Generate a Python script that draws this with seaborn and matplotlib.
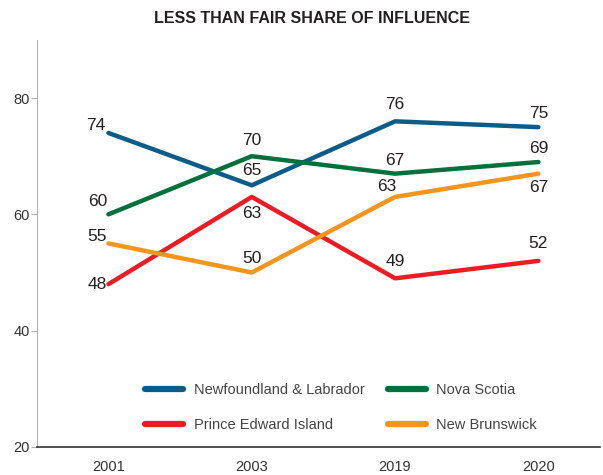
import pandas as pd
import matplotlib.pyplot as plt
import seaborn as sns

# 데이터
years = ['2001', '2003', '2019', '2020']
provinces = ['Newfoundland & Labrador', 'Nova Scotia', 'Prince Edward Island', 'New Brunswick']
nl = [74, 65, 76, 75]
ns = [60, 70, 67, 69]
pei = [48, 63, 49, 52]
nb = [55, 50, 63, 67]
colors = ['#0b5d87', '#00703c', '#ed1c24', '#f7941d']

# 라벨 위치 (픽셀 오프셋)
offsets = {
    'Newfoundland & Labrador': [(-13, 7), (0, 15), (0, 17), (0, 14)],
    'Nova Scotia': [(-11, 13), (0, 16), (0, 13), (0, 14)],
    'Prince Edward Island': [(-11, 0), (0, -17), (0, 17), (0, 17)],
    'New Brunswick': [(-11, 7), (0, 14), (-8, 10), (0, -14)],
}

df = pd.DataFrame({
    'year': years * 4,
    'province': [p for p in provinces for _ in years],
    'value': nl + ns + pei + nb,
})

sns.set_style('white')
plt.rcParams['font.family'] = ['Liberation Sans', 'DejaVu Sans']

fig = plt.figure(figsize=(6.03, 4.75), dpi=100)
ax = fig.add_axes([0.061, 0.059, 0.934, 0.857])

sns.lineplot(data=df, x='year', y='value', hue='province', hue_order=provinces,
             palette=colors, linewidth=3.2, sort=False, ax=ax)

# 값 라벨
for p in provinces:
    sub = df[df['province'] == p]
    for i, (v, off) in enumerate(zip(sub['value'], offsets[p])):
        ax.annotate(str(v), (i, v), xytext=off, textcoords='offset pixels',
                    ha='center', va='center', fontsize=12.5, color='#231f20')

ax.set_xlim(-0.5, 3.43)
ax.set_ylim(20, 90)
ax.set_yticks([20, 40, 60, 80])
ax.set_xlabel('')
ax.set_ylabel('')

for s in ['top', 'right']:
    ax.spines[s].set_visible(False)
ax.spines['left'].set_color('#b0b0b0')
ax.spines['left'].set_linewidth(0.8)
ax.spines['bottom'].set_color('#333333')
ax.spines['bottom'].set_linewidth(1.2)
ax.tick_params(axis='y', left=True, length=4, width=0.8, color='#b0b0b0',
               labelsize=10.5, labelcolor='#333333', pad=1)
ax.tick_params(axis='x', bottom=False, labelsize=10.5, labelcolor='#333333', pad=6)

# 범례 순서: 1행 NL, NS / 2행 PEI, NB
handles, labels = ax.get_legend_handles_labels()
order = [0, 2, 1, 3]
leg = ax.legend([handles[i] for i in order], [labels[i] for i in order],
                loc='center', bbox_to_anchor=(0.54, 0.097), ncol=2, frameon=False,
                fontsize=10.5, handlelength=2.6, handletextpad=0.75,
                columnspacing=1.6, labelspacing=1.4, borderpad=0)
for t in leg.get_texts():
    t.set_color('#444444')
for h in leg.get_lines():
    h.set_linewidth(4.5)

fig.text(0.517, 0.961, 'LESS THAN FAIR SHARE OF INFLUENCE', ha='center', va='center',
         fontsize=11.5, fontweight='bold', color='#231f20')

fig.savefig('out.png', dpi=100)
